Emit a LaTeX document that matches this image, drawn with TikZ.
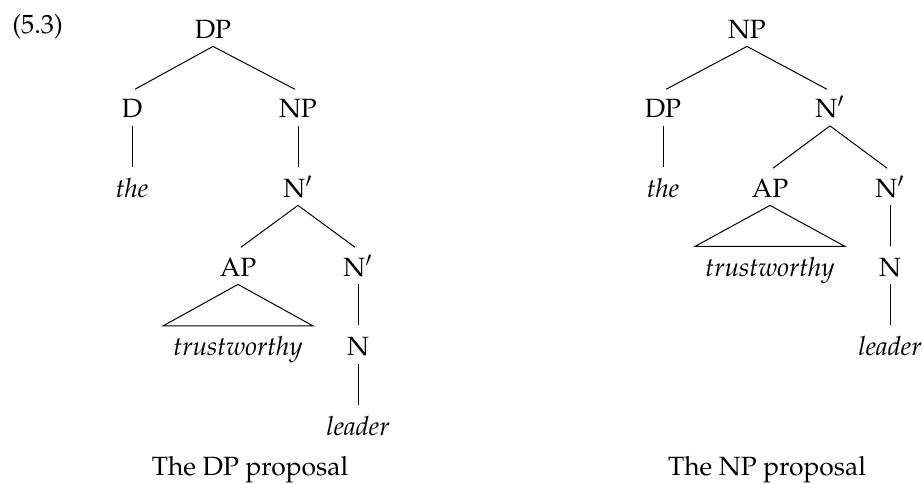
\documentclass[tikz,border=0pt]{standalone}
\usepackage[T1]{fontenc}
\usepackage{mathpazo}
\usetikzlibrary{calc}
\begin{document}
\begin{tikzpicture}[x=0.5pt,y=-0.5pt,
  lab/.style={anchor=base,inner xsep=0pt,inner ysep=4pt,text height=9.1pt,text depth=0pt,font=\fontsize{13.2}{15}\selectfont},
  br/.style={line width=0.5pt,shorten >=1.75pt},
  tri/.style={line width=0.5pt}]
\useasboundingbox (0,0) rectangle (923,483);
\node[lab,anchor=base west] (ex) at (12,33) {(5.3)};
% left tree: DP proposal
\node[lab] (ldp) at (213,38) {DP};
\node[lab] (ld) at (132,117.5) {D};
\node[lab] (lnp) at (298,117.5) {NP};
\node[lab] (lthe) at (132,197) {\textit{the}};
\node[lab] (lnb) at (298,197) {N$'$};
\node[lab] (lap) at (238,276) {AP};
\node[lab] (lnb2) at (358,276) {N$'$};
\node[lab] (ltw) at (238,355.5) {\textit{trustworthy}};
\node[lab] (ln) at (358,355.5) {N};
\node[lab] (lleader) at (358,435) {\textit{leader}};
\node[lab] (lcap) at (250,475) {The DP proposal};
\draw[br] (ldp.south) -- (ld.north);
\draw[br] (ldp.south) -- (lnp.north);
\draw[br] (ld.south) -- (lthe.north);
\draw[br] (lnp.south) -- (lnb.north);
\draw[br] (lnb.south) -- (lap.north);
\draw[br] (lnb.south) -- (lnb2.north);
\draw[br] (lnb2.south) -- (ln.north);
\draw[br] (ln.south) -- (lleader.north);
\draw[tri] (lap.south) -- ($(ltw.north)+(-37.5pt,1.5pt)$) -- ($(ltw.north)+(37.5pt,1.5pt)$) -- cycle;
% right tree: NP proposal
\node[lab] (rnp) at (747,38) {NP};
\node[lab] (rdp) at (663,117.5) {DP};
\node[lab] (rnb) at (830,117.5) {N$'$};
\node[lab] (rthe) at (663,197) {\textit{the}};
\node[lab] (rap) at (770,197) {AP};
\node[lab] (rnb2) at (890,197) {N$'$};
\node[lab] (rtw) at (770,276) {\textit{trustworthy}};
\node[lab] (rn) at (890,276) {N};
\node[lab] (rleader) at (890,355.5) {\textit{leader}};
\node[lab] (rcap) at (767,475) {The NP proposal};
\draw[br] (rnp.south) -- (rdp.north);
\draw[br] (rnp.south) -- (rnb.north);
\draw[br] (rdp.south) -- (rthe.north);
\draw[br] (rnb.south) -- (rap.north);
\draw[br] (rnb.south) -- (rnb2.north);
\draw[br] (rnb2.south) -- (rn.north);
\draw[br] (rn.south) -- (rleader.north);
\draw[tri] (rap.south) -- ($(rtw.north)+(-37.5pt,1.5pt)$) -- ($(rtw.north)+(37.5pt,1.5pt)$) -- cycle;
\end{tikzpicture}
\end{document}
